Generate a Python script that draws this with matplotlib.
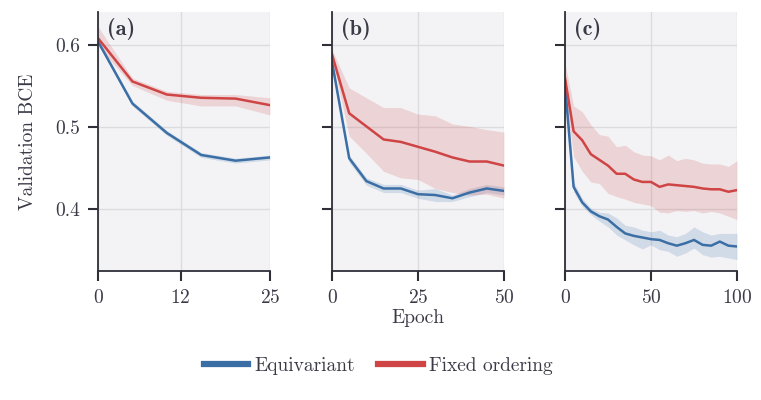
import matplotlib
matplotlib.use("Agg")
import matplotlib.pyplot as plt
from matplotlib.lines import Line2D

plt.rcParams["font.family"] = ["cmr10", "DejaVu Serif"]
plt.rcParams["axes.formatter.use_mathtext"] = True
plt.rcParams["mathtext.fontset"] = "cm"

TEXT = "#3b3b48"
BLUE = "#3b6ea5"
RED = "#cf4444"

# (a) epochs 0..25
epochs_a = [0, 5, 10, 15, 20, 25]
equiv_a = [0.605, 0.529, 0.493, 0.466, 0.459, 0.463]
equiv_a_lo = [0.602, 0.526, 0.490, 0.463, 0.456, 0.460]
equiv_a_hi = [0.608, 0.532, 0.496, 0.469, 0.462, 0.466]
fixed_a = [0.609, 0.556, 0.540, 0.536, 0.535, 0.527]
fixed_a_lo = [0.599, 0.551, 0.533, 0.526, 0.526, 0.515]
fixed_a_hi = [0.623, 0.560, 0.544, 0.540, 0.540, 0.536]

# (b) epochs 0..50
epochs_b = [0, 5, 10, 15, 20, 25, 30, 35, 40, 45, 50]
equiv_b = [0.580, 0.462, 0.434, 0.425, 0.425, 0.418, 0.417, 0.413, 0.420, 0.425, 0.422]
equiv_b_lo = [0.575, 0.457, 0.429, 0.420, 0.420, 0.413, 0.409, 0.409, 0.415, 0.420, 0.417]
equiv_b_hi = [0.585, 0.466, 0.438, 0.430, 0.430, 0.423, 0.425, 0.417, 0.425, 0.430, 0.427]
fixed_b = [0.589, 0.517, 0.501, 0.485, 0.482, 0.476, 0.470, 0.463, 0.458, 0.458, 0.453]
fixed_b_lo = [0.585, 0.489, 0.468, 0.446, 0.438, 0.436, 0.425, 0.420, 0.417, 0.418, 0.413]
fixed_b_hi = [0.595, 0.548, 0.536, 0.524, 0.524, 0.516, 0.514, 0.504, 0.501, 0.497, 0.494]

# (c) epochs 0..100
epochs_c = list(range(0, 101, 5))
equiv_c = [0.552, 0.427, 0.408, 0.397, 0.391, 0.387, 0.378, 0.370, 0.367, 0.365, 0.363,
           0.362, 0.358, 0.355, 0.358, 0.362, 0.356, 0.355, 0.360, 0.355, 0.354]
equiv_c_lo = [0.545, 0.421, 0.403, 0.393, 0.385, 0.378, 0.368, 0.362, 0.356, 0.351, 0.356,
              0.350, 0.348, 0.342, 0.346, 0.352, 0.344, 0.341, 0.342, 0.340, 0.338]
equiv_c_hi = [0.562, 0.433, 0.413, 0.401, 0.396, 0.395, 0.389, 0.380, 0.378, 0.374, 0.372,
              0.374, 0.368, 0.366, 0.370, 0.378, 0.372, 0.368, 0.370, 0.370, 0.370]
fixed_c = [0.560, 0.495, 0.484, 0.467, 0.460, 0.453, 0.443, 0.443, 0.436, 0.433, 0.433,
           0.427, 0.430, 0.429, 0.428, 0.427, 0.425, 0.424, 0.424, 0.421, 0.423]
fixed_c_lo = [0.544, 0.464, 0.446, 0.433, 0.431, 0.419, 0.415, 0.412, 0.408, 0.406, 0.404,
              0.396, 0.395, 0.398, 0.397, 0.398, 0.395, 0.397, 0.395, 0.391, 0.387]
fixed_c_hi = [0.578, 0.526, 0.519, 0.503, 0.491, 0.489, 0.476, 0.478, 0.470, 0.466, 0.465,
              0.460, 0.466, 0.459, 0.462, 0.460, 0.456, 0.455, 0.455, 0.452, 0.459]

panels = [
    ("(a)", epochs_a, [0, 12, 25], equiv_a, equiv_a_lo, equiv_a_hi, fixed_a, fixed_a_lo, fixed_a_hi),
    ("(b)", epochs_b, [0, 25, 50], equiv_b, equiv_b_lo, equiv_b_hi, fixed_b, fixed_b_lo, fixed_b_hi),
    ("(c)", epochs_c, [0, 50, 100], equiv_c, equiv_c_lo, equiv_c_hi, fixed_c, fixed_c_lo, fixed_c_hi),
]

fig = plt.figure(figsize=(7.61, 4.0), dpi=100)
lefts = [98 / 761, 332 / 761, 565 / 761]
width = 172 / 761
bottom = 1 - 271 / 400
height = 259 / 400
FS = 14

for i, (lab, x, xt, eq, eql, eqh, fx, fxl, fxh) in enumerate(panels):
    ax = fig.add_axes([lefts[i], bottom, width, height])
    ax.set_facecolor("#f3f3f6")
    ax.grid(True, color="#dcdcdf", linewidth=1.0)
    ax.set_axisbelow(True)
    ax.fill_between(x, eql, eqh, color=BLUE, alpha=0.18, linewidth=0)
    ax.fill_between(x, fxl, fxh, color=RED, alpha=0.18, linewidth=0)
    ax.plot(x, eq, color=BLUE, linewidth=1.8)
    ax.plot(x, fx, color=RED, linewidth=1.8)
    ax.set_xlim(x[0], x[-1])
    ax.set_ylim(0.324, 0.641)
    ax.set_xticks(xt)
    ax.set_yticks([0.4, 0.5, 0.6])
    if i == 0:
        ax.set_yticklabels(["0.4", "0.5", "0.6"])
        ax.set_ylabel("Validation BCE", fontsize=FS, color=TEXT, labelpad=13)
    else:
        ax.set_yticklabels([])
    for s in ["top", "right"]:
        ax.spines[s].set_visible(False)
    for s in ["left", "bottom"]:
        ax.spines[s].set_color("#2f2f38")
        ax.spines[s].set_linewidth(1.3)
    ax.tick_params(direction="out", length=7, width=1.5, color="#2f2f38",
                   labelsize=FS, labelcolor=TEXT, pad=6)
    ax.text(0.055, 0.975, lab, transform=ax.transAxes, ha="left", va="top",
            fontsize=16, fontweight="bold", family=["cmb10", "DejaVu Serif"], color=TEXT)

fig.text(418 / 761, 1 - 318 / 400, "Epoch", ha="center", va="center", fontsize=FS, color=TEXT)

handles = [Line2D([], [], color=BLUE, linewidth=4.5), Line2D([], [], color=RED, linewidth=4.5)]
fig.legend(handles, ["Equivariant", "Fixed ordering"], loc="center",
           bbox_to_anchor=(378 / 761, 1 - 366 / 400), ncol=2, frameon=False,
           fontsize=FS, handlelength=2.3, handletextpad=0.3, columnspacing=1.2,
           labelcolor=TEXT)

fig.savefig("out.png", dpi=100)
plt.close(fig)
